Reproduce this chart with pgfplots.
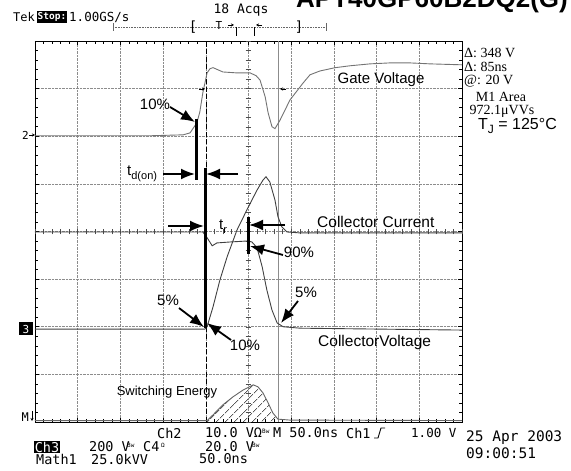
\documentclass[border=0pt]{standalone}
\usepackage{pgfplots}
\pgfplotsset{compat=1.18}
\usepackage{fontspec}
\setmainfont{Liberation Sans}
\newfontfamily\tek{DejaVu Sans Mono}
\newfontfamily\tekser{Liberation Serif}
\usetikzlibrary{arrows.meta,patterns.meta}

\newcommand{\fs}[1]{\fontsize{#1}{#1}\selectfont}

\begin{document}
\begin{tikzpicture}[x=1pt,y=1pt]
\useasboundingbox (0,0) rectangle (571,471);

\begin{axis}[
    at={(35pt,49pt)}, anchor=south west,
    width=427pt, height=381pt, scale only axis,
    xmin=0, xmax=10, ymin=0, ymax=8,
    xtick={0,...,10}, ytick={0,...,8},
    minor x tick num=4, minor y tick num=4,
    xticklabels={}, yticklabels={},
    grid=major,
    major grid style={densely dotted, black!45, line width=0.6pt},
    major tick length=4pt, minor tick length=3pt,
    tick style={black, line width=0.5pt},
    axis line style={black, line width=0.9pt},
    clip=false,
]
% centre cross ticks
\pgfplotsinvokeforeach{0,0.2,...,10}{
  \draw[black!70, line width=0.4pt] (axis cs:#1,3.94) -- (axis cs:#1,4.06);
}
\pgfplotsinvokeforeach{0,0.2,...,8}{
  \draw[black!70, line width=0.4pt] (axis cs:4.93,#1) -- (axis cs:5.07,#1);
}

% cursors
\draw[black, line width=0.6pt, dash pattern=on 5pt off 2.5pt] (axis cs:4.0,0) -- (axis cs:4.0,8);
\draw[black!45, line width=1.4pt] (axis cs:5.7,0) -- (axis cs:5.7,8);

% switching energy (hatched)
\addplot[draw=none, pattern={Lines[angle=45,distance=6.5pt,line width=0.7pt]}]
  coordinates {(4.03,0.03) (4.17,0.15) (4.40,0.36) (4.64,0.53) (4.87,0.67)
    (5.11,0.78) (5.22,0.74) (5.34,0.61) (5.46,0.40) (5.57,0.19) (5.69,0.06)} \closedcycle;
\addplot[black!60, line width=0.9pt] coordinates {
  (0,0.03) (4.03,0.03) (4.17,0.15) (4.40,0.36) (4.64,0.53) (4.87,0.67)
  (5.11,0.78) (5.22,0.74) (5.34,0.61) (5.46,0.40) (5.57,0.19) (5.69,0.06)
  (5.97,0.04) (10,0.03)};

% gate voltage
\addplot[black!55, line width=0.9pt] coordinates {
  (0,6.01) (1.52,6.01) (2.69,6.01) (3.47,6.03) (3.63,6.07) (3.79,6.28)
  (3.86,6.51) (3.93,6.91) (4.03,7.33) (4.10,7.42) (4.17,7.44) (4.40,7.35)
  (4.73,7.33) (5.04,7.33) (5.18,7.27) (5.27,7.18) (5.39,6.83) (5.46,6.49)
  (5.55,6.20) (5.62,6.16) (5.74,6.34) (5.97,6.76) (6.28,7.12) (6.44,7.29)
  (6.67,7.37) (7.03,7.44) (7.38,7.48) (7.85,7.52) (8.31,7.54) (8.78,7.54)
  (9.25,7.52) (10,7.50)};

% collector current
\addplot[black!75, line width=0.9pt] coordinates {
  (0,1.95) (3.98,1.95) (4.03,2.00) (4.17,2.42) (4.33,2.98) (4.50,3.47)
  (4.73,4.03) (4.96,4.45) (5.20,4.87) (5.34,5.08) (5.41,5.15) (5.50,5.04)
  (5.62,4.66) (5.69,4.31) (5.78,4.10) (5.90,3.99) (6.21,3.97) (10,3.97)};

% collector voltage
\addplot[black!75, line width=0.9pt] coordinates {
  (0,3.99) (3.93,3.99) (4.03,3.87) (4.15,3.70) (4.26,3.76) (4.57,3.78)
  (4.96,3.80) (5.08,3.78) (5.20,3.66) (5.32,3.26) (5.43,2.77) (5.55,2.35)
  (5.67,2.08) (5.81,2.00) (6.21,1.97) (10,1.93)};
\end{axis}

\begin{scope}[x=1pt,y=-1pt,shift={(0pt,471pt)}]
\tikzset{ar/.style={line width=1.8pt, -{Latex[length=14pt,width=11pt]}},
         bar/.style={line width=3pt},
         sm/.style={line width=0.6pt,-{Stealth[length=3pt,width=3pt]}}}
% title (cut at top)
\node[anchor=base west, inner sep=0pt] at (296,8) {\fs{26}\bfseries APT40GP60B2DQ2(G)};

% top status line
\node[anchor=west, inner sep=0pt] at (13,17) {\tek\fs{12}Tek};
\node[fill=black, text=white, inner sep=1.2pt] at (52,17) {\tek\fs{9.5}\bfseries Stop:};
\node[anchor=west, inner sep=0pt] at (69,17) {\tek\fs{12.5}1.00GS/s};
\node[inner sep=0pt] at (241,10) {\tek\fs{13}18 Acqs};
\draw[black!60, densely dotted, line width=0.6pt] (113,27) -- (326,27);
\draw[black!60, line width=0.5pt] (113,23) -- (113,31) (326,23) -- (326,31);
\node[inner sep=0pt] at (193,27) {\tek\fs{14}[};
\node[inner sep=0pt] at (299,27) {\tek\fs{14}]};
\node[inner sep=0pt] at (219,25) {\tek\fs{11}T};
\draw[sm] (228,25) -- (234,25);
\draw[sm] (262,25) -- (256,25);
\draw[line width=0.5pt] (236,27) -- (236,36) (254,27) -- (254,36);

% channel markers
\node[anchor=east, inner sep=0pt] at (29,135) {\tek\fs{11}2};
\draw[sm] (29,135) -- (35,135);
\node[fill=black, text=white, inner sep=1pt, minimum width=14pt, minimum height=13pt] at (26,329) {\tek\fs{11}3};
\node[anchor=east, inner sep=0pt] at (29,417) {\tek\fs{12}M};
\draw[sm] (32,411) -- (32,421);

% cursor markers
\draw[sm] (199,89) -- (205,89);
\draw[sm] (286,89) -- (280,89);

% annotation bars
\draw[bar] (196,119) -- (196,180);
\draw[bar] (205,168) -- (205,328);
\draw[bar] (248,217) -- (248,254);

% annotation arrows
\draw[ar] (170,107) -- (195,122);
\draw[ar] (163,174) -- (195,174);
\draw[ar] (238,174) -- (206,174);
\draw[ar] (168,226) -- (204,226);
\draw[ar] (285,225) -- (249,225);
\draw[ar] (283,255) -- (250,246);
\draw[ar] (298,301) -- (281,323);
\draw[ar] (179,308) -- (204,327);
\draw[ar] (231,340) -- (207,323);

% annotation labels
\node[inner sep=0pt] at (155,104) {\fs{15}10\%};
\node[anchor=base west, inner sep=0pt] at (127,176) {\fs{15}t\raisebox{-4pt}{\fs{11}d(on)}};
\node[anchor=base west, inner sep=0pt] at (219,230) {\fs{15}t\raisebox{-4pt}{\fs{11}r}};
\node[inner sep=0pt] at (299,252) {\fs{15}90\%};
\node[inner sep=0pt] at (306,292) {\fs{15}5\%};
\node[inner sep=0pt] at (168,300) {\fs{15}5\%};
\node[inner sep=0pt] at (245,345) {\fs{15}10\%};
\node[inner sep=0pt] at (381,80) {\fs{15}Gate Voltage};
\node[anchor=west, inner sep=0pt] at (317,222) {\fs{15.5}Collector Current};
\node[anchor=west, inner sep=0pt] at (318,342) {\fs{15.5}CollectorVoltage};
\node[inner sep=0pt] at (167,392) {\fs{13}Switching Energy};

% right readouts
\node[anchor=west, inner sep=0pt] at (464,53) {\tekser\fs{14}Δ: 348 V};
\node[anchor=west, inner sep=0pt] at (464,67) {\tekser\fs{14}Δ: 85ns};
\node[anchor=west, inner sep=0pt] at (464,81) {\tekser\fs{14}@: 20 V};
\node[inner sep=0pt] at (501,97) {\tekser\fs{14}M1 Area};
\node[inner sep=0pt] at (502,111) {\tekser\fs{14}972.1μVVs};
\node[anchor=west, inner sep=0pt] at (478,126) {\fs{16}T\raisebox{-4pt}{\fs{12}J} = 125°C};

% bottom status lines
\node[anchor=west, inner sep=0pt] at (157,433) {\tek\fs{13.5}Ch2};
\node[anchor=west, inner sep=0pt] at (205,433) {\tek\fs{13.5}10.0 VΩ};
\node[anchor=west, inner sep=0pt] at (262,431) {\tek\fs{6}Bw};
\node[anchor=west, inner sep=0pt] at (273,433) {\tek\fs{13.5}M 50.0ns};
\node[anchor=west, inner sep=0pt] at (346,433) {\tek\fs{13.5}Ch1};
\draw[line width=0.9pt] (374,438) -- (378,438) -- (381,428) -- (385,428);
\node[anchor=west, inner sep=0pt] at (411,433) {\tek\fs{12.5}1.00 V};
\node[fill=black, text=white, inner sep=1pt] at (47,447) {\tek\fs{13.5}Ch3};
\node[anchor=west, inner sep=0pt] at (89,447) {\tek\fs{13.5}200 V};
\node[anchor=west, inner sep=0pt] at (127,445) {\tek\fs{6}Bw};
\node[anchor=west, inner sep=0pt] at (143,447) {\tek\fs{13.5}C4};
\node[anchor=west, inner sep=0pt] at (161,445) {\tek\fs{6}Ω};
\node[anchor=west, inner sep=0pt] at (205,447) {\tek\fs{13.5}20.0 V};
\node[anchor=west, inner sep=0pt] at (252,445) {\tek\fs{6}Bw};
\node[anchor=west, inner sep=0pt] at (36,459) {\tek\fs{13.5}Math1};
\node[anchor=west, inner sep=0pt] at (91,459) {\tek\fs{13.5}25.0kVV};
\node[anchor=west, inner sep=0pt] at (199,459) {\tek\fs{13.5}50.0ns};
\node[anchor=west, inner sep=0pt] at (466,438) {\tek\fs{14.5}25 Apr 2003};
\node[anchor=west, inner sep=0pt] at (466,453) {\tek\fs{14.5}09:00:51};
\end{scope}
\end{tikzpicture}
\end{document}
